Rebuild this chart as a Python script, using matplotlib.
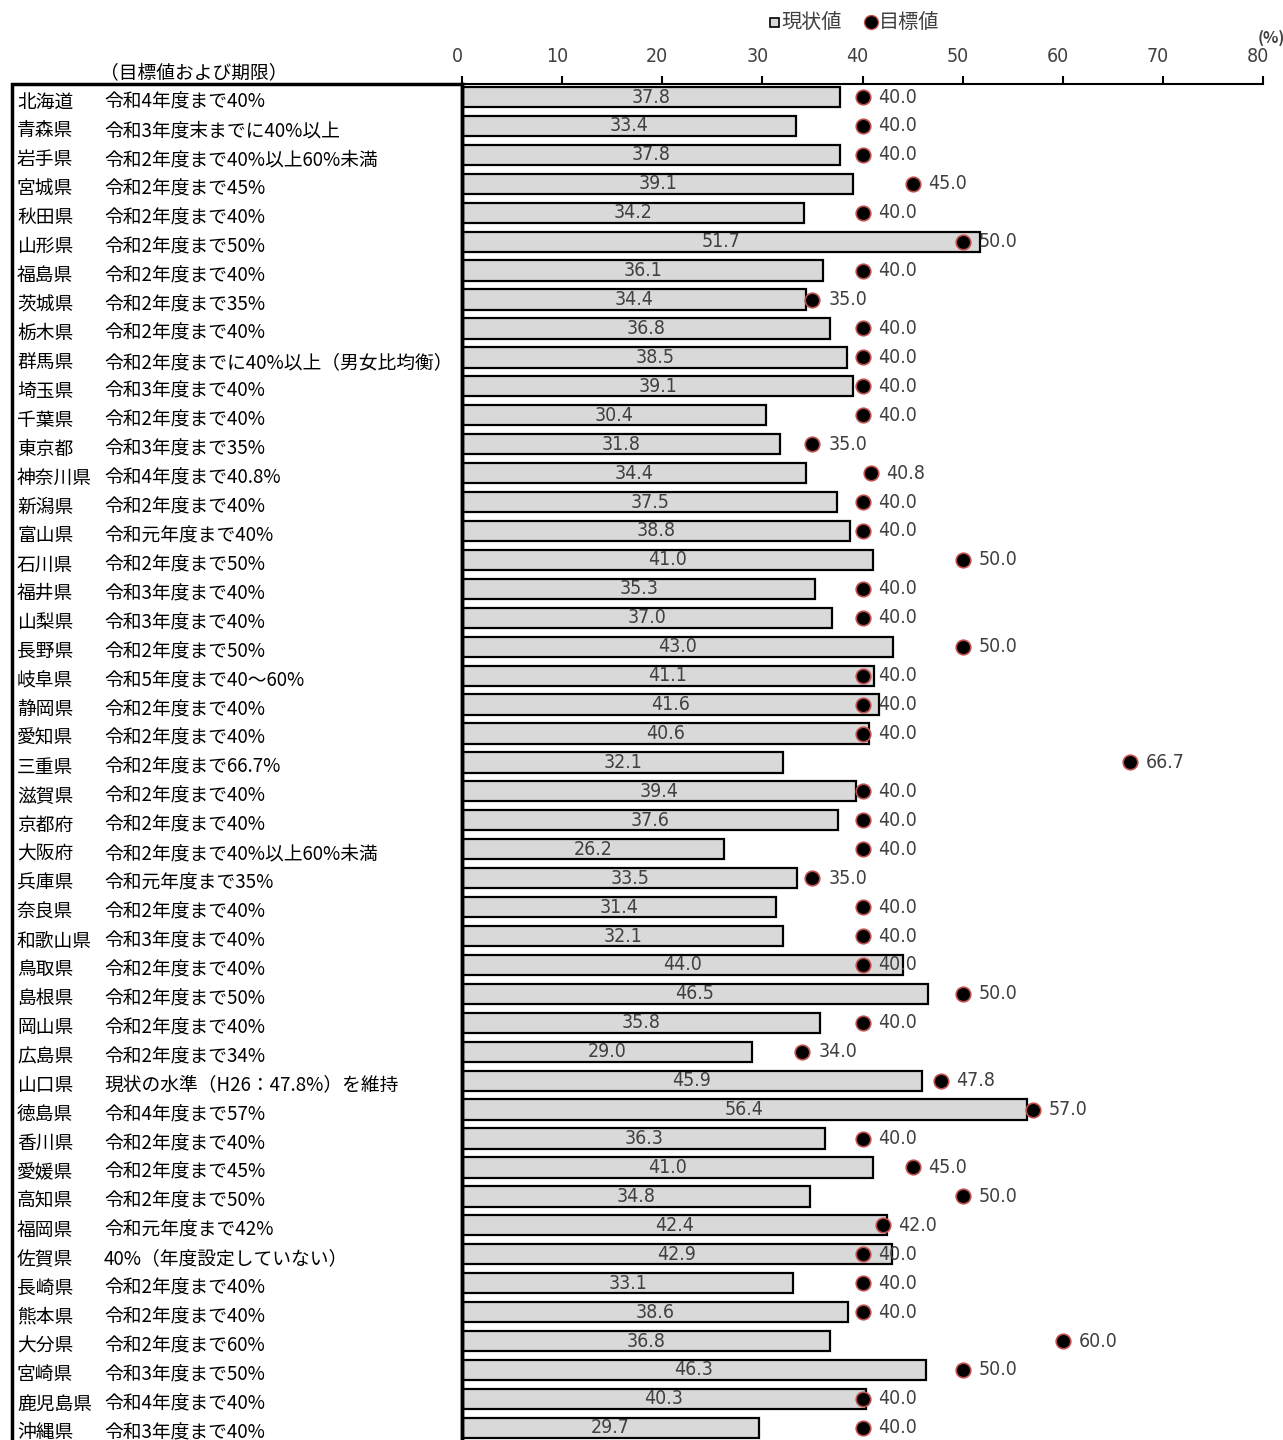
import matplotlib.pyplot as plt
import matplotlib.transforms as mtransforms
from matplotlib.patches import Rectangle
from matplotlib.font_manager import fontManager, FontProperties

plt.rcParams['font.family'] = ['Noto Sans CJK JP', 'DejaVu Sans']

prefs = ['北海道', '青森県', '岩手県', '宮城県', '秋田県', '山形県', '福島県', '茨城県',
         '栃木県', '群馬県', '埼玉県', '千葉県', '東京都', '神奈川県', '新潟県', '富山県',
         '石川県', '福井県', '山梨県', '長野県', '岐阜県', '静岡県', '愛知県', '三重県',
         '滋賀県', '京都府', '大阪府', '兵庫県', '奈良県', '和歌山県', '鳥取県', '島根県',
         '岡山県', '広島県', '山口県', '徳島県', '香川県', '愛媛県', '高知県', '福岡県',
         '佐賀県', '長崎県', '熊本県', '大分県', '宮崎県', '鹿児島県', '沖縄県']

targets_text = ['令和4年度まで40%', '令和3年度末までに40%以上', '令和2年度まで40%以上60%未満',
                '令和2年度まで45%', '令和2年度まで40%', '令和2年度まで50%', '令和2年度まで40%',
                '令和2年度まで35%', '令和2年度まで40%', '令和2年度までに40%以上（男女比均衡）',
                '令和3年度まで40%', '令和2年度まで40%', '令和3年度まで35%', '令和4年度まで40.8%',
                '令和2年度まで40%', '令和元年度まで40%', '令和2年度まで50%', '令和3年度まで40%',
                '令和3年度まで40%', '令和2年度まで50%', '令和5年度まで40～60%', '令和2年度まで40%',
                '令和2年度まで40%', '令和2年度まで66.7%', '令和2年度まで40%', '令和2年度まで40%',
                '令和2年度まで40%以上60%未満', '令和元年度まで35%', '令和2年度まで40%', '令和3年度まで40%',
                '令和2年度まで40%', '令和2年度まで50%', '令和2年度まで40%', '令和2年度まで34%',
                '現状の水準（H26：47.8%）を維持', '令和4年度まで57%', '令和2年度まで40%',
                '令和2年度まで45%', '令和2年度まで50%', '令和元年度まで42%', '40%（年度設定していない）',
                '令和2年度まで40%', '令和2年度まで40%', '令和2年度まで60%', '令和3年度まで50%',
                '令和4年度まで40%', '令和3年度まで40%']

current = [37.8, 33.4, 37.8, 39.1, 34.2, 51.7, 36.1, 34.4, 36.8, 38.5, 39.1, 30.4,
           31.8, 34.4, 37.5, 38.8, 41.0, 35.3, 37.0, 43.0, 41.1, 41.6, 40.6, 32.1,
           39.4, 37.6, 26.2, 33.5, 31.4, 32.1, 44.0, 46.5, 35.8, 29.0, 45.9, 56.4,
           36.3, 41.0, 34.8, 42.4, 42.9, 33.1, 38.6, 36.8, 46.3, 40.3, 29.7]

target = [40.0, 40.0, 40.0, 45.0, 40.0, 50.0, 40.0, 35.0, 40.0, 40.0, 40.0, 40.0,
          35.0, 40.8, 40.0, 40.0, 50.0, 40.0, 40.0, 50.0, 40.0, 40.0, 40.0, 66.7,
          40.0, 40.0, 40.0, 35.0, 40.0, 40.0, 40.0, 50.0, 40.0, 34.0, 47.8, 57.0,
          40.0, 45.0, 50.0, 42.0, 40.0, 40.0, 40.0, 60.0, 50.0, 40.0, 40.0]

xticks = [0, 10, 20, 30, 40, 50, 60, 70, 80]

# a narrow font for the numbers, if one is installed
narrow = [f for f in fontManager.ttflist
          if ('Condensed' in f.name or 'Narrow' in f.name or f.stretch in ('condensed', 'semi-condensed'))
          and f.weight in (400, 'normal', 'regular') and f.style == 'normal']
if narrow:
    numprop = FontProperties(fname=narrow[0].fname, size=14)
else:
    numprop = FontProperties(family='DejaVu Sans', size=13)

W, H = 1283, 1440
fig = plt.figure(figsize=(W / 100, H / 100), dpi=100)
ax = fig.add_axes([462 / W, 0, (1263 - 462) / W, 1 - 84 / H])

y = list(range(len(prefs)))
ax.barh(y, current, height=0.7, color='#d9d9d9', edgecolor='black', linewidth=1.6, zorder=2)
ax.scatter(target, y, s=110, color='black', edgecolors='#c0504d', linewidths=1.2, zorder=3)

for i in y:
    ax.text(current[i] / 2, i, f'{current[i]:.1f}', ha='center', va='center',
            color='#404040', fontproperties=numprop, zorder=4)
    ax.text(target[i] + 1.6, i, f'{target[i]:.1f}', ha='left', va='center',
            color='#404040', fontproperties=numprop, zorder=4)

ax.set_xlim(0, 80)
ax.set_ylim(46.42, -0.45)
ax.set_xticks(xticks)
ax.xaxis.tick_top()
ax.tick_params(axis='x', direction='out', length=6, width=1.5, colors='black',
               labelcolor='#404040', pad=7)
shift = mtransforms.ScaledTranslation(-5 / 100, 0, fig.dpi_scale_trans)
for lbl in ax.get_xticklabels():
    lbl.set_fontproperties(numprop)
    lbl.set_transform(lbl.get_transform() + shift)
ax.set_yticks([])
for s in ['right', 'bottom']:
    ax.spines[s].set_visible(False)
ax.spines['top'].set_linewidth(1.5)
ax.spines['left'].set_linewidth(2.5)

# left table
ytop = 1 - 84 / H
fig.patches.append(Rectangle((12 / W, -0.01), (462 - 12) / W, ytop + 0.01,
                             transform=fig.transFigure, fill=False,
                             edgecolor='black', linewidth=2.5))
fig.text(100 / W, 1 - 74 / H, '（目標値および期限）', fontsize=13.5, va='center', ha='left')
for i in y:
    yy = 1 - (97 + 28.93 * i + 5) / H
    fig.text(17 / W, yy, prefs[i], fontsize=13.5, va='center', ha='left')
    fig.text(104 / W, yy, targets_text[i], fontsize=13.5, va='center', ha='left')

# legend
fig.patches.append(Rectangle((770 / W, 1 - 27 / H), 9 / W, 9 / H, transform=fig.transFigure,
                             facecolor='#d9d9d9', edgecolor='black', linewidth=1.2))
fig.text(781 / W, 1 - 22 / H, '現状値', fontsize=14.5, color='#404040', va='center', ha='left')
fig.lines.append(plt.Line2D([871 / W], [1 - 22 / H], marker='o', markersize=10,
                            markerfacecolor='black', markeredgecolor='#c0504d',
                            transform=fig.transFigure))
fig.text(879 / W, 1 - 22 / H, '目標値', fontsize=14.5, color='#404040', va='center', ha='left')
fig.text(1271 / W, 1 - 38 / H, '(%)', fontsize=11.5, color='#404040', fontweight='bold',
         va='center', ha='center')

fig.savefig('out.png', dpi=100)
